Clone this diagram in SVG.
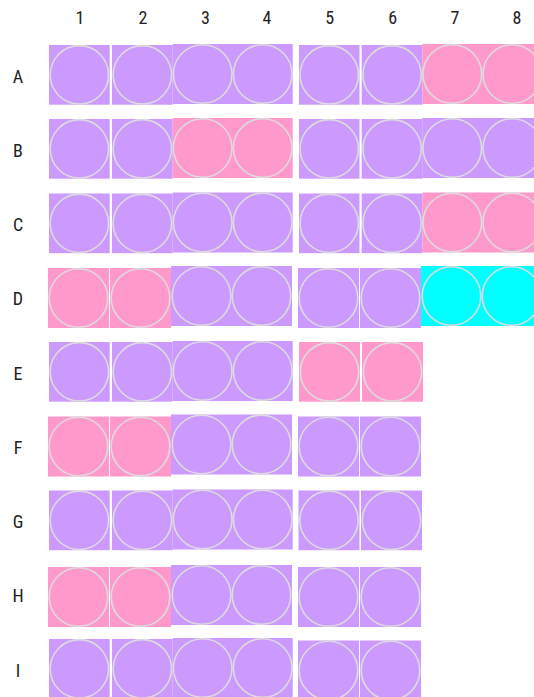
<svg xmlns="http://www.w3.org/2000/svg" width="534" height="697" viewBox="0 0 534 697">
<style>
.p{fill:#cc99ff}
.k{fill:#ff99cc}
.y{fill:#00ffff}
.c{fill:none;stroke:#dcdcdc;stroke-width:1.6}
.lab{font-family:Roboto,"Liberation Sans",sans-serif;font-size:18px;fill:#222;text-anchor:middle;font-stretch:condensed}
</style>
<rect x="0" y="0" width="534" height="697" fill="#ffffff"/>
<g id="col-labels" class="lab">
<text x="80" y="23.5">1</text><text x="143" y="23.5">2</text><text x="205.5" y="23.5">3</text><text x="267" y="23.5">4</text>
<text x="329.7" y="23.5">5</text><text x="392.7" y="23.5">6</text><text x="455" y="23.5">7</text><text x="517" y="23.5">8</text>
</g>
<g id="row-labels" class="lab">
<text x="18" y="82.5">A</text><text x="18" y="156.5">B</text><text x="18" y="231">C</text><text x="18" y="305">D</text>
<text x="18" y="379.5">E</text><text x="18" y="453.5">F</text><text x="18" y="528">G</text><text x="18" y="602">H</text><text x="18" y="676.5">I</text>
</g>

<!-- Row A -->
<g id="A1"><rect class="p" x="49" y="45" width="60.7" height="59.7"/><circle class="c" cx="79.35" cy="74.85" r="29.2"/></g>
<g id="A2"><rect class="p" x="112" y="45" width="60.7" height="59.7"/><circle class="c" cx="142.35" cy="74.85" r="29.2"/></g>
<g id="A34"><rect class="p" x="172.7" y="44" width="120" height="60"/><circle class="c" cx="202.7" cy="74" r="29.3"/><circle class="c" cx="262.7" cy="74" r="29.3"/></g>
<g id="A5"><rect class="p" x="299" y="45" width="60.5" height="59.7"/><circle class="c" cx="329.25" cy="74.85" r="29.2"/></g>
<g id="A6"><rect class="p" x="361.7" y="45" width="60.7" height="59.7"/><circle class="c" cx="392.05" cy="74.85" r="29.2"/></g>
<g id="A78"><rect class="k" x="422.3" y="44" width="120" height="60"/><circle class="c" cx="452.3" cy="74" r="29.3"/><circle class="c" cx="512.3" cy="74" r="29.3"/></g>

<!-- Row B -->
<g id="B1"><rect class="p" x="49" y="119" width="60.7" height="59.7"/><circle class="c" cx="79.35" cy="148.85" r="29.2"/></g>
<g id="B2"><rect class="p" x="112" y="119" width="60.7" height="59.7"/><circle class="c" cx="142.35" cy="148.85" r="29.2"/></g>
<g id="B34"><rect class="k" x="172.7" y="118" width="120" height="60"/><circle class="c" cx="202.7" cy="148" r="29.3"/><circle class="c" cx="262.7" cy="148" r="29.3"/></g>
<g id="B5"><rect class="p" x="299" y="119" width="60.5" height="59.7"/><circle class="c" cx="329.25" cy="148.85" r="29.2"/></g>
<g id="B6"><rect class="p" x="361.7" y="119" width="60.7" height="59.7"/><circle class="c" cx="392.05" cy="148.85" r="29.2"/></g>
<g id="B78"><rect class="p" x="422.3" y="118" width="120" height="60"/><circle class="c" cx="452.3" cy="148" r="29.3"/><circle class="c" cx="512.3" cy="148" r="29.3"/></g>

<!-- Row C -->
<g id="C1"><rect class="p" x="49" y="193.5" width="60.7" height="59.7"/><circle class="c" cx="79.35" cy="223.35" r="29.2"/></g>
<g id="C2"><rect class="p" x="112" y="193.5" width="60.7" height="59.7"/><circle class="c" cx="142.35" cy="223.35" r="29.2"/></g>
<g id="C34"><rect class="p" x="172.7" y="192.5" width="120" height="60"/><circle class="c" cx="202.7" cy="222.5" r="29.3"/><circle class="c" cx="262.7" cy="222.5" r="29.3"/></g>
<g id="C5"><rect class="p" x="299" y="193.5" width="60.5" height="59.7"/><circle class="c" cx="329.25" cy="223.35" r="29.2"/></g>
<g id="C6"><rect class="p" x="361.7" y="193.5" width="60.7" height="59.7"/><circle class="c" cx="392.05" cy="223.35" r="29.2"/></g>
<g id="C78"><rect class="k" x="422.3" y="192.5" width="120" height="60"/><circle class="c" cx="452.3" cy="222.5" r="29.3"/><circle class="c" cx="512.3" cy="222.5" r="29.3"/></g>

<!-- Row D -->
<g id="D1"><rect class="k" x="48" y="268" width="61" height="60"/><circle class="c" cx="78.5" cy="298" r="29.3"/></g>
<g id="D2"><rect class="k" x="110" y="268" width="61" height="60"/><circle class="c" cx="140.5" cy="298" r="29.3"/></g>
<g id="D34"><rect class="p" x="171" y="266" width="121" height="60"/><circle class="c" cx="201.5" cy="296" r="29.3"/><circle class="c" cx="261.5" cy="296" r="29.3"/></g>
<g id="D5"><rect class="p" x="298" y="268" width="61" height="60"/><circle class="c" cx="328.5" cy="298" r="29.3"/></g>
<g id="D6"><rect class="p" x="360" y="268" width="61" height="60"/><circle class="c" cx="390.5" cy="298" r="29.3"/></g>
<g id="D78"><rect class="y" x="421" y="266" width="121" height="60"/><circle class="c" cx="451.5" cy="296" r="29.3"/><circle class="c" cx="511.5" cy="296" r="29.3"/></g>

<!-- Row E -->
<g id="E1"><rect class="p" x="49" y="342" width="60.7" height="59.7"/><circle class="c" cx="79.35" cy="371.85" r="29.2"/></g>
<g id="E2"><rect class="p" x="112" y="342" width="60.7" height="59.7"/><circle class="c" cx="142.35" cy="371.85" r="29.2"/></g>
<g id="E34"><rect class="p" x="172.7" y="341" width="120" height="60"/><circle class="c" cx="202.7" cy="371" r="29.3"/><circle class="c" cx="262.7" cy="371" r="29.3"/></g>
<g id="E5"><rect class="k" x="299" y="342" width="61" height="59.7"/><circle class="c" cx="329.5" cy="371.85" r="29.2"/></g>
<g id="E6"><rect class="k" x="362" y="342" width="61" height="59.7"/><circle class="c" cx="392.5" cy="371.85" r="29.2"/></g>

<!-- Row F -->
<g id="F1"><rect class="k" x="48" y="416.5" width="61" height="60"/><circle class="c" cx="78.5" cy="446.5" r="29.3"/></g>
<g id="F2"><rect class="k" x="110" y="416.5" width="61" height="60"/><circle class="c" cx="140.5" cy="446.5" r="29.3"/></g>
<g id="F34"><rect class="p" x="171" y="414.5" width="121" height="60"/><circle class="c" cx="201.5" cy="444.5" r="29.3"/><circle class="c" cx="261.5" cy="444.5" r="29.3"/></g>
<g id="F5"><rect class="p" x="298" y="416.5" width="61" height="60"/><circle class="c" cx="328.5" cy="446.5" r="29.3"/></g>
<g id="F6"><rect class="p" x="360" y="416.5" width="61" height="60"/><circle class="c" cx="390.5" cy="446.5" r="29.3"/></g>

<!-- Row G -->
<g id="G1"><rect class="p" x="49" y="490.5" width="60.7" height="59.7"/><circle class="c" cx="79.35" cy="520.35" r="29.2"/></g>
<g id="G2"><rect class="p" x="112" y="490.5" width="60.7" height="59.7"/><circle class="c" cx="142.35" cy="520.35" r="29.2"/></g>
<g id="G34"><rect class="p" x="172.7" y="489.5" width="120" height="60"/><circle class="c" cx="202.7" cy="519.5" r="29.3"/><circle class="c" cx="262.7" cy="519.5" r="29.3"/></g>
<g id="G5"><rect class="p" x="298.5" y="490.5" width="61" height="59.7"/><circle class="c" cx="329" cy="520.35" r="29.2"/></g>
<g id="G6"><rect class="p" x="361" y="490.5" width="61" height="59.7"/><circle class="c" cx="391.5" cy="520.35" r="29.2"/></g>

<!-- Row H -->
<g id="H1"><rect class="k" x="48" y="567" width="61" height="60"/><circle class="c" cx="78.5" cy="597" r="29.3"/></g>
<g id="H2"><rect class="k" x="110" y="567" width="61" height="60"/><circle class="c" cx="140.5" cy="597" r="29.3"/></g>
<g id="H34"><rect class="p" x="171" y="565" width="121" height="60"/><circle class="c" cx="201.5" cy="595" r="29.3"/><circle class="c" cx="261.5" cy="595" r="29.3"/></g>
<g id="H5"><rect class="p" x="298" y="567" width="61" height="60"/><circle class="c" cx="328.5" cy="597" r="29.3"/></g>
<g id="H6"><rect class="p" x="360" y="567" width="61" height="60"/><circle class="c" cx="390.5" cy="597" r="29.3"/></g>

<!-- Row I -->
<g id="I1"><rect class="p" x="49" y="639" width="60.7" height="59.7"/><circle class="c" cx="79.35" cy="668.85" r="29.2"/></g>
<g id="I2"><rect class="p" x="112" y="639" width="60.7" height="59.7"/><circle class="c" cx="142.35" cy="668.85" r="29.2"/></g>
<g id="I34"><rect class="p" x="172.7" y="638" width="120" height="60"/><circle class="c" cx="202.7" cy="668" r="29.3"/><circle class="c" cx="262.7" cy="668" r="29.3"/></g>
<g id="I5"><rect class="p" x="298" y="640.5" width="61" height="60"/><circle class="c" cx="328.5" cy="670.5" r="29.3"/></g>
<g id="I6"><rect class="p" x="360" y="640.5" width="61" height="60"/><circle class="c" cx="390.5" cy="670.5" r="29.3"/></g>
</svg>
